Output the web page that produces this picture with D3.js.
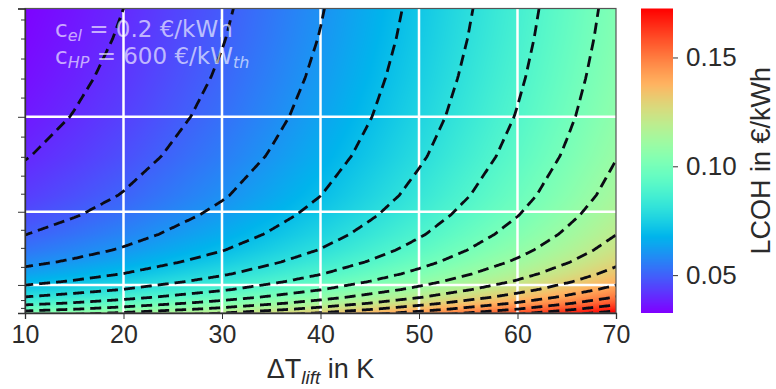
<!DOCTYPE html>
<html>
<head>
<meta charset="utf-8">
<script src="https://cdn.jsdelivr.net/npm/d3@7"></script>
<style>
  body { margin: 0; background: #fff; }
  text { font-family: "Liberation Sans", Arial, sans-serif; }
</style>
</head>
<body>
<svg id="chart"></svg>
<script>
// LCOH at the highest full-load hours (top edge), per temperature lift
const dT = [10, 15, 20, 25, 30, 35, 40, 45, 50, 55, 60, 65, 70];
const lcohTop = [0.033, 0.0363, 0.040, 0.0444, 0.0488, 0.054, 0.0595, 0.0657, 0.0722, 0.0793, 0.0865, 0.0945, 0.103];

// extra LCOH from the heat pump investment at fewer full-load hours (left edge)
const hours = [1000, 1100, 1250, 1400, 1600, 1800, 2000, 2300, 2600, 3000, 3500, 4000, 5000, 6000, 7000, 8000, 8760];
const capexAdd = [0.0711, 0.0634, 0.0544, 0.0474, 0.0401, 0.0345, 0.0301, 0.0249, 0.0209, 0.0169, 0.0132, 0.0104, 0.0066, 0.0040, 0.0022, 0.0008, 0];

const levels = [0.04, 0.05, 0.06, 0.07, 0.08, 0.09, 0.10, 0.11, 0.12, 0.13, 0.14, 0.15, 0.16, 0.17];
const xTicks = [10, 20, 30, 40, 50, 60, 70];
const xGrid = [20, 30, 40, 50, 60];
const yGrid = [6000, 3580, 1715];
const yMajor = [8760, 6000, 3580, 1715, 1000];
const yMinor = [8480, 7995, 7485, 6975, 6490, 5495, 4980, 4500, 4040, 3120, 2660, 2175, 1330, 1130];
const cbTicks = [0.05, 0.10, 0.15];
const cbDomain = [0.0326, 0.1725];

const width = 776, height = 389;
const margin = { left: 25, top: 8.5, right: 160, bottom: 76 };
const pw = 616 - margin.left, ph = 313 - margin.top;

const svg = d3.select('#chart').attr('width', width).attr('height', height);

const x = d3.scaleLinear().domain([10, 70]).range([0, pw]);
const y = d3.scaleLinear().domain([1000, 8760]).range([ph, 0]);

const topScale = d3.scaleLinear().domain(dT).range(lcohTop);
const capScale = d3.scaleLinear().domain(hours).range(capexAdd);

// matplotlib "rainbow"
function rainbow(t) {
  t = Math.max(0, Math.min(1, t));
  const r = Math.min(1, Math.abs(2 * t - 0.5));
  const g = Math.sin(Math.PI * t);
  const b = Math.cos(Math.PI * t / 2);
  return d3.rgb(r * 255, g * 255, b * 255);
}
const color = d3.scaleSequential(rainbow).domain(cbDomain);

const g = svg.append('g').attr('transform', `translate(${margin.left},${margin.top})`);

// heat map
const cv = document.createElement('canvas');
cv.width = Math.round(pw); cv.height = Math.round(ph);
const ctx = cv.getContext('2d');
const img = ctx.createImageData(cv.width, cv.height);
for (let j = 0; j < cv.height; j++) {
  const add = capScale(y.invert(j + 0.5));
  for (let i = 0; i < cv.width; i++) {
    const c = color(topScale(x.invert(i + 0.5)) + add);
    const k = (j * cv.width + i) * 4;
    img.data[k] = c.r; img.data[k + 1] = c.g; img.data[k + 2] = c.b; img.data[k + 3] = 255;
  }
}
ctx.putImageData(img, 0, 0);
g.append('image').attr('width', pw).attr('height', ph)
  .attr('preserveAspectRatio', 'none').attr('href', cv.toDataURL());

g.append('clipPath').attr('id', 'plotclip')
  .append('rect').attr('width', pw).attr('height', ph);

// grid
g.selectAll('.vgrid').data(xGrid).enter().append('line')
  .attr('x1', d => x(d)).attr('x2', d => x(d)).attr('y1', 0).attr('y2', ph)
  .attr('stroke', '#fff').attr('stroke-width', 2.5);
g.selectAll('.hgrid').data(yGrid).enter().append('line')
  .attr('x1', 0).attr('x2', pw).attr('y1', d => y(d)).attr('y2', d => y(d))
  .attr('stroke', '#fff').attr('stroke-width', 2.5);

// contour lines (dashed)
const samples = d3.range(8, 72.01, 0.1);
const line = d3.line().x(d => x(d[0])).y(d => y(d[1]));
g.append('g').attr('clip-path', 'url(#plotclip)')
  .selectAll('path').data(levels).enter().append('path')
  .attr('d', L => line(samples.map(t => [t, capScale.invert(L - topScale(t))])
    .filter(p => p[1] > -20000 && p[1] < 30000)))
  .attr('fill', 'none').attr('stroke', '#0b0b14').attr('stroke-width', 2.8)
  .attr('stroke-dasharray', '11,6');

// frame
g.append('rect').attr('width', pw).attr('height', ph)
  .attr('fill', 'none').attr('stroke', '#555').attr('stroke-width', 1.2);

// x axis
const xAxis = g.append('g').attr('transform', `translate(0,${ph})`)
  .call(d3.axisBottom(x).tickValues(xTicks).tickSize(6).tickPadding(6).tickFormat(d3.format('d')));
xAxis.select('.domain').attr('stroke', '#333').attr('stroke-width', 1.3);
xAxis.selectAll('.tick line').attr('stroke', '#333');
xAxis.selectAll('text').attr('font-size', 25).attr('fill', '#2b2b2b')
  .attr('font-family', '"Liberation Sans", Arial, sans-serif');

// y axis: tick marks only (labels are cut off in the figure)
const yAxis = g.append('g')
  .call(d3.axisLeft(y).tickValues(yMajor).tickSize(7).tickFormat(''));
yAxis.select('.domain').attr('stroke', '#333').attr('stroke-width', 1.3);
yAxis.selectAll('.tick line').attr('stroke', '#333');
g.append('g').call(d3.axisLeft(y).tickValues(yMinor).tickSize(4).tickFormat(''))
  .call(a => a.select('.domain').remove())
  .selectAll('.tick line').attr('stroke', '#333');

// x label
const xl = svg.append('text').attr('x', margin.left + pw / 2).attr('y', 378)
  .attr('text-anchor', 'middle').attr('font-size', 27).attr('fill', '#2b2b2b');
xl.append('tspan').text('\u0394T');
xl.append('tspan').text('lift').attr('font-style', 'italic').attr('font-size', 19).attr('dy', 6);
xl.append('tspan').text(' in K').attr('dy', -6);

// annotation
const ann = g.append('g').attr('fill', '#fff').attr('fill-opacity', 0.64)
  .attr('font-family', '"DejaVu Sans", sans-serif');
const a1 = ann.append('text').attr('x', 30).attr('y', 28).attr('font-size', 23);
a1.append('tspan').text('c').attr('font-family', '"DejaVu Sans", sans-serif');
a1.append('tspan').text('el').attr('font-style', 'italic').attr('font-size', 16).attr('dy', 4)
  .attr('font-family', '"DejaVu Sans", sans-serif');
a1.append('tspan').text(' = 0.2 \u20ac/kWh').attr('dy', -4).attr('font-family', '"DejaVu Sans", sans-serif');
const a2 = ann.append('text').attr('x', 30).attr('y', 55).attr('font-size', 23);
a2.append('tspan').text('c').attr('font-family', '"DejaVu Sans", sans-serif');
a2.append('tspan').text('HP').attr('font-style', 'italic').attr('font-size', 16).attr('dy', 4)
  .attr('font-family', '"DejaVu Sans", sans-serif');
a2.append('tspan').text(' = 600 \u20ac/kW').attr('dy', -4).attr('font-family', '"DejaVu Sans", sans-serif');
a2.append('tspan').text('th').attr('font-style', 'italic').attr('font-size', 16).attr('dy', 4)
  .attr('font-family', '"DejaVu Sans", sans-serif');

// colorbar
const cbx = 641, cbw = 32;
const cb = d3.scaleLinear().domain(cbDomain).range([313, 8.5]);
const ccv = document.createElement('canvas');
ccv.width = 1; ccv.height = 300;
const cctx = ccv.getContext('2d');
for (let j = 0; j < 300; j++) {
  cctx.fillStyle = color(cbDomain[1] - (j + 0.5) / 300 * (cbDomain[1] - cbDomain[0]));
  cctx.fillRect(0, j, 1, 1);
}
svg.append('image').attr('x', cbx).attr('y', cb.range()[1]).attr('width', cbw)
  .attr('height', cb.range()[0] - cb.range()[1]).attr('preserveAspectRatio', 'none')
  .attr('href', ccv.toDataURL());
const cbAxis = svg.append('g').attr('transform', `translate(${cbx + cbw},0)`)
  .call(d3.axisRight(cb).tickValues(cbTicks).tickSize(5).tickPadding(8).tickFormat(d3.format('.2f')));
cbAxis.select('.domain').remove();
cbAxis.selectAll('.tick line').attr('stroke', '#333');
cbAxis.selectAll('text').attr('font-size', 26).attr('fill', '#2b2b2b')
  .attr('font-family', '"Liberation Sans", Arial, sans-serif');

svg.append('text').attr('transform', `translate(770,${(313 + 8.5) / 2}) rotate(-90)`)
  .attr('text-anchor', 'middle').attr('font-size', 27).attr('fill', '#2b2b2b')
  .text('LCOH in \u20ac/kWh');
</script>
</body>
</html>
